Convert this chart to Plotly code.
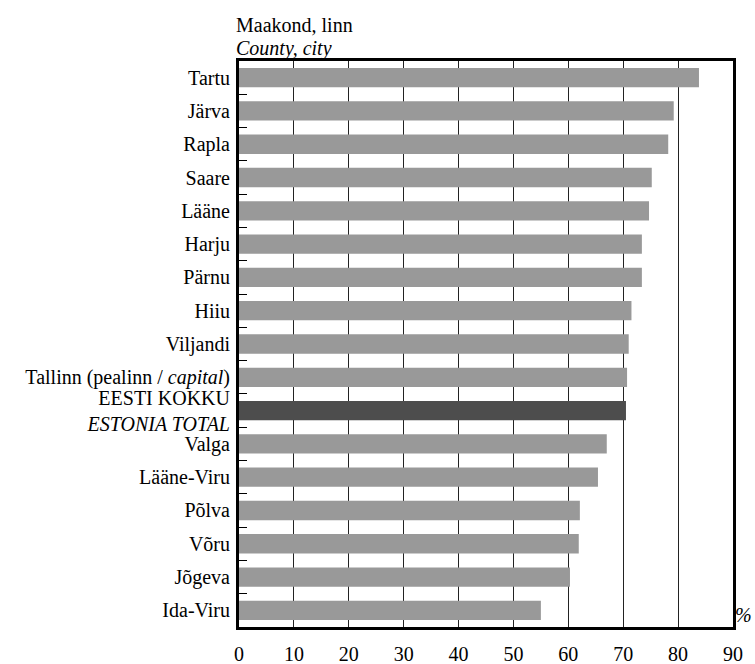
import plotly.graph_objects as go

categories = ["Tartu", "Järva", "Rapla", "Saare", "Lääne", "Harju", "Pärnu", "Hiiu",
              "Viljandi", "Tallinn (pealinn / <i>capital</i>)",
              "EESTI KOKKU<br><i>ESTONIA TOTAL</i>",
              "Valga", "Lääne-Viru", "Põlva", "Võru", "Jõgeva", "Ida-Viru"]
values = [83.8, 79.2, 78.2, 75.2, 74.7, 73.4, 73.4, 71.5, 71.0, 70.7, 70.5,
          67.0, 65.4, 62.1, 61.9, 60.3, 55.0]
total_label = "EESTI KOKKU<br><i>ESTONIA TOTAL</i>"
x_ticks = [0, 10, 20, 30, 40, 50, 60, 70, 80, 90]

colors = ["#4d4d4d" if c == total_label else "#999999" for c in categories]
FONT = "Liberation Serif"
FS = 20

W, H = 755, 664
L, R_EDGE, T, B_EDGE = 239, 733, 61, 627
PW, PH = R_EDGE - L, B_EDGE - T

fig = go.Figure(go.Bar(
    x=values, y=categories, orientation="h",
    marker=dict(color=colors, line=dict(width=0)),
    hoverinfo="x+y",
))

fig.update_layout(
    width=W, height=H,
    margin=dict(l=L, r=W - R_EDGE, t=T, b=H - B_EDGE),
    plot_bgcolor="white", paper_bgcolor="white",
    font=dict(family=FONT, size=FS, color="black"),
    bargap=0.42,
    showlegend=False,
)
fig.update_xaxes(
    range=[0, 90], tickvals=x_ticks, ticks="", showgrid=True,
    gridcolor="#222222", gridwidth=1, zeroline=False,
    showline=True, linecolor="black", linewidth=3, mirror=True,
    ticklabelstandoff=7, automargin=False,
    tickfont=dict(family=FONT, size=FS),
)
fig.update_yaxes(
    categoryorder="array", categoryarray=categories, autorange="reversed",
    ticks="inside", tickson="boundaries", ticklen=8, tickwidth=1, tickcolor="black",
    showgrid=False, zeroline=False,
    showline=True, linecolor="black", linewidth=3, mirror=True,
    automargin=False, ticklabelstandoff=2,
    tickfont=dict(family=FONT, size=FS),
)
fig.add_annotation(text="Maakond, linn", xref="paper", yref="paper",
                   x=-5 / PW, y=(B_EDGE - 25) / PH, xanchor="left", yanchor="middle",
                   showarrow=False, font=dict(family=FONT, size=FS))
fig.add_annotation(text="<i>County, city</i>", xref="paper", yref="paper",
                   x=-5 / PW, y=(B_EDGE - 48) / PH, xanchor="left", yanchor="middle",
                   showarrow=False, font=dict(family=FONT, size=FS))
fig.add_annotation(text="<i>%</i>", xref="paper", yref="paper",
                   x=(743 - L) / PW, y=12 / PH, xanchor="center", yanchor="middle",
                   showarrow=False, font=dict(family=FONT, size=FS))

fig.write_html("out.html",
               config={"displayModeBar": False},
               post_script="document.body.style.margin='0';document.body.style.overflow='hidden';")
